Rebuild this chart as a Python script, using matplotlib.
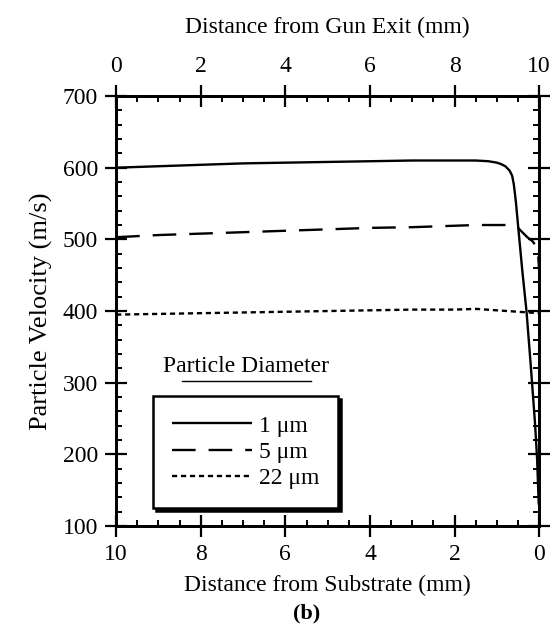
import numpy as np
import matplotlib.pyplot as plt
from matplotlib.ticker import MultipleLocator

plt.rcParams['font.family'] = ['Liberation Serif', 'DejaVu Serif']
plt.rcParams['font.size'] = 17

# distance from gun exit (mm) and particle velocity (m/s)
x_1um = [0, 1, 2, 3, 4, 5, 6, 7, 8, 8.5, 8.8, 9.0, 9.1, 9.2, 9.3, 9.36, 9.4, 9.45, 9.5,
         9.6, 9.7, 9.8, 9.9, 9.95, 9.99]
v_1um = [600, 602, 604, 606, 607, 608, 609, 610, 610, 610, 609, 607, 605, 602, 596, 589,
         577, 552, 520, 457, 400, 325, 245, 195, 130]

x_5um = [0, 1, 2, 3, 4, 5, 6, 7, 8, 8.5, 9.0, 9.36, 9.5, 9.6, 9.72, 9.85, 9.95, 9.98, 10.0]
v_5um = [503, 506, 508, 510, 512, 514, 516, 517, 519, 520, 520, 520, 516, 510, 503, 497,
         488, 475, 455]

x_22um = [0, 1, 2, 3, 4, 5, 6, 7, 8, 8.5, 9.0, 9.5, 10.0]
v_22um = [395, 396, 397, 398, 399, 400, 401, 402, 402, 403, 401, 399, 397]

labels = ['1 μm', '5 μm', '22 μm']

fig = plt.figure(figsize=(5.53, 6.4), dpi=100)
ax = fig.add_axes([0.21, 0.178, 0.765, 0.672])
ax.set_xlim(10, 0)
ax.set_ylim(100, 700)

ax2 = ax.twiny()
ax2.set_xlim(0, 10)

ax2.plot(x_1um, v_1um, color='black', lw=1.7, solid_capstyle='butt')
ax2.plot(x_5um, v_5um, color='black', lw=1.7, dashes=(10, 5.5))
ax2.plot(x_22um, v_22um, color='black', lw=1.7, dashes=(2.2, 1.6))

for a in (ax, ax2):
    for s in a.spines.values():
        s.set_linewidth(2)

ax.xaxis.set_major_locator(MultipleLocator(2))
ax.xaxis.set_minor_locator(MultipleLocator(0.5))
ax.yaxis.set_major_locator(MultipleLocator(100))
ax.yaxis.set_minor_locator(MultipleLocator(20))
ax2.xaxis.set_major_locator(MultipleLocator(2))
ax2.xaxis.set_minor_locator(MultipleLocator(0.5))

ax.tick_params(which='major', direction='inout', length=16, width=1.6, pad=5,
               left=True, right=True, bottom=True, top=False)
ax.tick_params(axis='x', which='major', pad=5)
ax.tick_params(which='minor', direction='in', length=4.5, width=1.4,
               left=True, right=True, bottom=True, top=False)
ax2.tick_params(which='major', direction='inout', length=16, width=1.6, pad=6)
ax2.tick_params(which='minor', direction='in', length=4.5, width=1.4)

ax.set_xlabel('Distance from Substrate (mm)', labelpad=7)
ax.set_ylabel('Particle Velocity (m/s)', labelpad=7, fontsize=19)
ax2.set_xlabel('Distance from Gun Exit (mm)', labelpad=16)

handles = ax2.get_lines()
leg = ax2.legend(handles, labels, loc='lower left',
                 bbox_to_anchor=(0.087, 0.042, 0.438, 0.267), mode='expand',
                 frameon=True, fancybox=False, edgecolor='black',
                 shadow={'color': 'black', 'alpha': 1},
                 handlelength=3.4, handletextpad=0.3, labelspacing=0.2,
                 borderpad=0.8, borderaxespad=0, fontsize=17)
leg.get_frame().set_linewidth(1.8)

ax2.text(0.307, 0.372, 'Particle Diameter', transform=ax2.transAxes,
         ha='center', va='center', fontsize=17)
ax2.plot([0.155, 0.46], [0.338, 0.338], transform=ax2.transAxes,
         color='black', lw=1)

fig.text(0.555, 0.042, '(b)', ha='center', va='center', fontsize=16,
         fontweight='bold')

fig.savefig('out.png', dpi=100)
